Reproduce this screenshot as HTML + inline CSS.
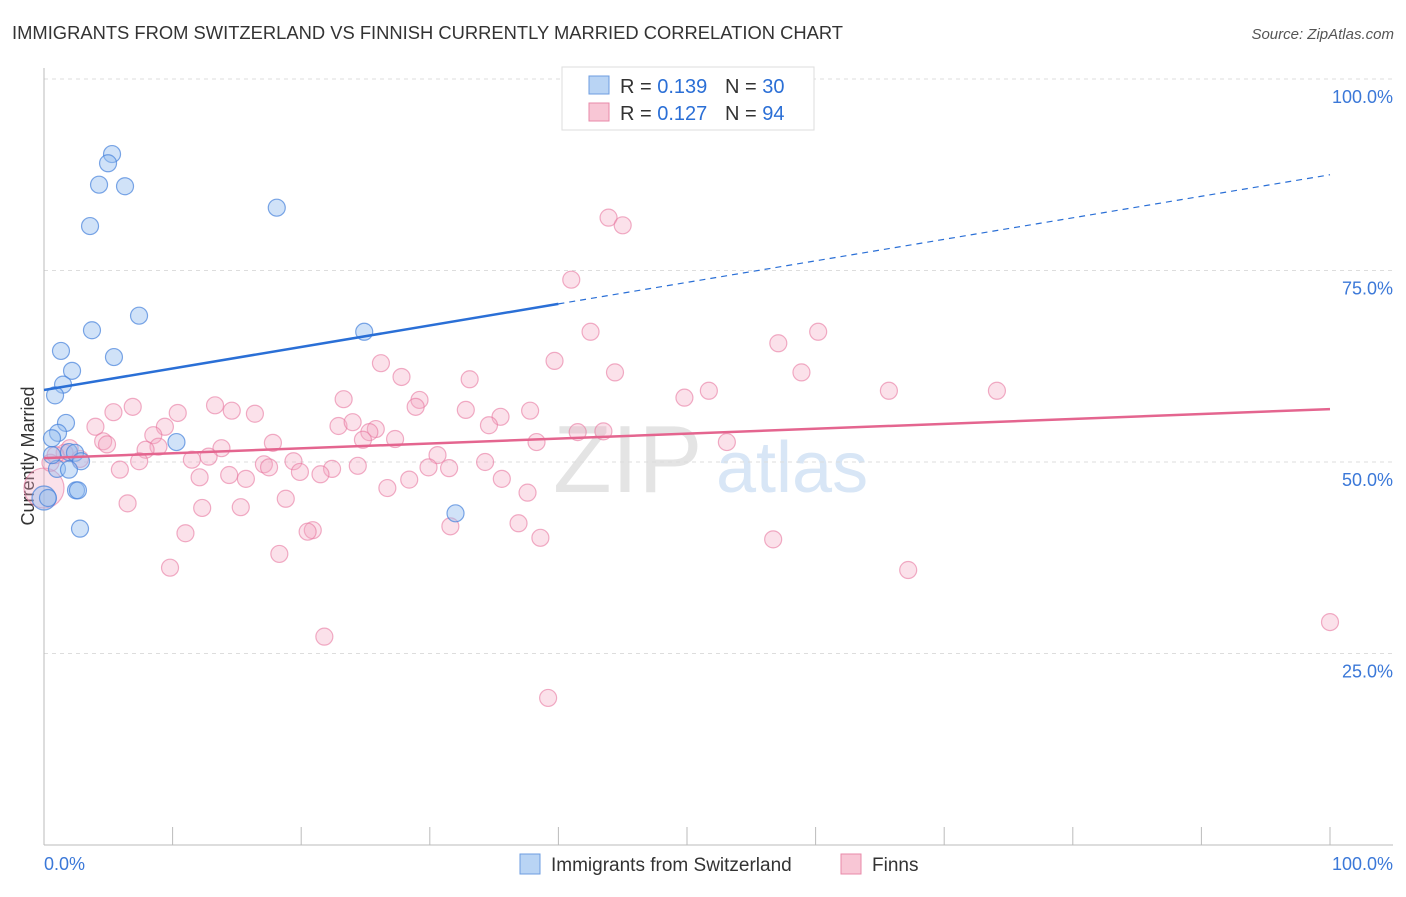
<!DOCTYPE html>
<html><head><meta charset="utf-8"><style>
body{margin:0;background:#fff;font-family:"Liberation Sans",sans-serif;}
svg text{font-family:"Liberation Sans",sans-serif;}
</style></head><body>
<svg id="chart" width="1406" height="892">
<text x="12" y="39" font-size="18" fill="#333" textLength="831" lengthAdjust="spacingAndGlyphs">IMMIGRANTS FROM SWITZERLAND VS FINNISH CURRENTLY MARRIED CORRELATION CHART</text>
<text x="1394" y="39" font-size="15" fill="#555" text-anchor="end" font-style="italic">Source: ZipAtlas.com</text>
<text x="0" y="0" transform="translate(34,456) rotate(-90)" font-size="18" fill="#333" text-anchor="middle">Currently Married</text>
<g>
<text x="553" y="492" font-size="96" fill="#e4e4e4" font-family="Liberation Serif">ZIP</text>
<text x="716" y="492" font-size="72" fill="#d8e6f6">atlas</text>
</g>
<g id="grid"></g><g id="axes"></g><g id="marks"></g>
<g>
<rect x="562" y="67" width="252" height="63" fill="#fff" stroke="#ddd"/>
<rect x="589" y="76" width="20" height="18" fill="#b9d4f4" stroke="#6d9de0"/>
<rect x="589" y="103" width="20" height="18" fill="#f8c6d5" stroke="#e88aa9"/>
<text x="620" y="93" font-size="20" fill="#333">R = <tspan fill="#2b6fd6">0.139</tspan></text>
<text x="725" y="93" font-size="20" fill="#333">N = <tspan fill="#2b6fd6">30</tspan></text>
<text x="620" y="120" font-size="20" fill="#333">R = <tspan fill="#2b6fd6">0.127</tspan></text>
<text x="725" y="120" font-size="20" fill="#333">N = <tspan fill="#2b6fd6">94</tspan></text>
</g>
<g>
<rect x="520" y="854" width="20" height="20" fill="#b9d4f4" stroke="#6d9de0"/>
<text x="551" y="871" font-size="19" fill="#333">Immigrants from Switzerland</text>
<rect x="841" y="854" width="20" height="20" fill="#f8c6d5" stroke="#e88aa9"/>
<text x="872" y="871" font-size="19" fill="#333">Finns</text>
</g>
</svg>
<script>
const yTicks=[25,50,75,100];
const yTickLabels=["25.0%","50.0%","75.0%","100.0%"];
const xTicks=[0,10,20,30,40,50,60,70,80,90,100];
const blueX=[5.29,4.98,4.28,6.3,3.58,18.1,7.39,3.73,24.9,5.44,1.32,2.18,1.48,0.86,1.71,1.09,0.62,10.3,1.94,2.41,2.88,1.01,1.94,2.49,2.64,2.8,32.0,0.31,0.62];
const blueY=[90.2,89.0,86.2,86.0,80.8,83.2,69.1,67.2,67.0,63.7,64.5,61.9,60.1,58.7,55.1,53.8,53.1,52.6,51.3,51.2,50.1,49.1,49.0,46.3,46.3,41.3,43.3,45.3,50.9];
const pinkX=[43.9,45.0,41.0,42.5,60.2,57.1,39.7,26.2,44.4,58.9,27.8,33.1,51.7,65.7,74.1,49.8,23.3,29.2,28.9,6.9,13.3,10.4,5.4,14.6,16.4,32.8,37.8,35.5,22.9,24.0,34.6,4.0,9.4,25.8,25.3,8.5,27.3,41.5,43.5,24.8,53.1,17.8,4.6,4.9,8.9,38.3,13.8,2.0,1.6,7.9,30.6,12.8,11.5,7.4,2.8,19.4,17.1,34.3,24.4,17.5,22.4,5.9,31.5,29.9,19.9,21.5,14.4,12.1,15.7,35.6,28.4,26.7,37.6,18.8,6.5,12.3,15.3,36.9,11.0,31.6,20.9,20.5,38.6,56.7,18.3,9.8,67.2,21.8,39.2,100,0.5,0.9];
const pinkY=[81.9,80.9,73.8,67.0,67.0,65.5,63.2,62.9,61.7,61.7,61.1,60.8,59.3,59.3,59.3,58.4,58.2,58.1,57.2,57.2,57.4,56.4,56.5,56.7,56.3,56.8,56.7,55.9,54.7,55.2,54.8,54.6,54.6,54.3,53.9,53.5,53.0,53.9,54.0,52.9,52.6,52.5,52.7,52.3,52.0,52.6,51.8,51.8,51.2,51.6,50.9,50.7,50.3,50.1,50.4,50.1,49.7,50.0,49.5,49.3,49.1,49.0,49.2,49.3,48.7,48.4,48.3,48.0,47.8,47.8,47.7,46.6,46.0,45.2,44.6,44.0,44.1,42.0,40.7,41.6,41.1,40.9,40.1,39.9,38.0,36.2,35.9,27.2,19.2,29.1,49.9,50.9];
const bigPink=[0,46.6];const bigBlue=[0,45.3];
const blueTrend=[59.4,87.5];const blueSolidEnd=40;
const pinkTrend=[50.5,56.9];
const NS="http://www.w3.org/2000/svg";
const X=v=>44+v*12.86, Y=v=>845-v*7.66;
function mk(t,a,p){const e=document.createElementNS(NS,t);for(const k in a)e.setAttribute(k,a[k]);p.appendChild(e);return e;}
const grid=document.getElementById('grid'),axes=document.getElementById('axes'),marks=document.getElementById('marks');
yTicks.forEach((t,i)=>{
 const l=mk('line',{x1:44,x2:1393,y1:Y(t),y2:Y(t),stroke:'#ddd','stroke-dasharray':'4,4'},grid);
 
 
 const tx=mk('text',{x:1393,y:Y(t)+24,'font-size':18,fill:'#3b78d8','text-anchor':'end'},axes);
 tx.textContent=yTickLabels[i];
 
 
});
const ya=mk('line',{x1:44,x2:44,y1:68,y2:845,stroke:'#bbb'},axes);


const xa=mk('line',{x1:44,x2:1393,y1:845,y2:845,stroke:'#bbb'},axes);


xTicks.forEach(t=>{const l=mk('line',{x1:X(t),x2:X(t),y1:827,y2:845,stroke:'#bbb'},axes);
 
 });
[['0.0%',44,'start'],['100.0%',1393,'end']].forEach(d=>{const t=mk('text',{x:d[1],y:870,'font-size':18,fill:'#3b78d8','text-anchor':d[2]},axes);t.textContent=d[0];
 
 });
function dot(x,y,r,c,s,name){const e=mk('circle',{cx:X(x),cy:Y(y),r:r,fill:c,stroke:s,'stroke-width':1.2},marks);
 
 }
dot(bigPink[0],bigPink[1],20,'rgba(244,170,195,0.35)','rgba(232,120,160,0.6)','finns-point-large');
pinkX.forEach((x,i)=>dot(x,pinkY[i],8.5,'rgba(244,170,195,0.35)','rgba(232,120,160,0.6)','finns-point'));
dot(bigBlue[0],bigBlue[1],12,'rgba(150,190,240,0.45)','rgba(70,130,220,0.7)','switzerland-point-large');
blueX.forEach((x,i)=>dot(x,blueY[i],8.5,'rgba(150,190,240,0.45)','rgba(70,130,220,0.7)','switzerland-point'));
const bt=v=>blueTrend[0]+(blueTrend[1]-blueTrend[0])*v/100;
const b1=mk('line',{x1:X(0),y1:Y(bt(0)),x2:X(blueSolidEnd),y2:Y(bt(blueSolidEnd)),stroke:'#2a6fd6','stroke-width':2.5},marks);


const b2=mk('line',{x1:X(blueSolidEnd),y1:Y(bt(blueSolidEnd)),x2:X(100),y2:Y(bt(100)),stroke:'#2a6fd6','stroke-width':1.2,'stroke-dasharray':'6,5'},marks);


const p1=mk('line',{x1:X(0),y1:Y(pinkTrend[0]),x2:X(100),y2:Y(pinkTrend[1]),stroke:'#e4658f','stroke-width':2.5},marks);


</script>
</body></html>
